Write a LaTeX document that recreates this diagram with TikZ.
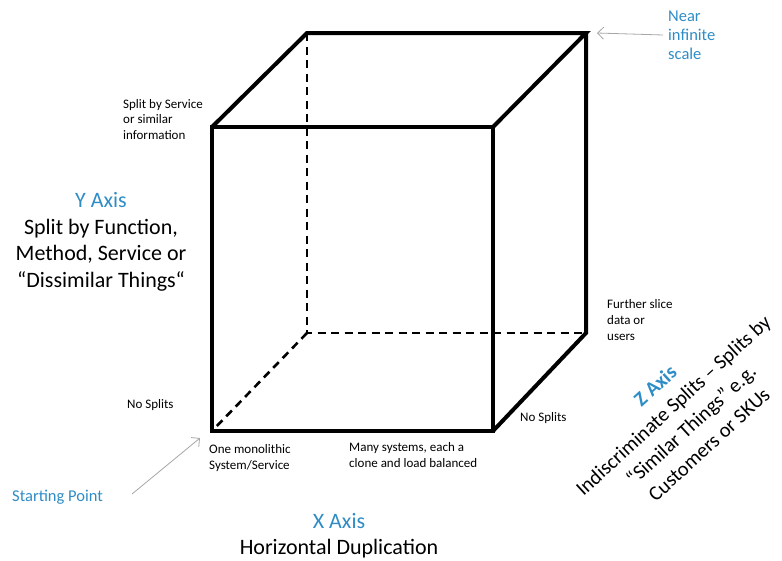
\documentclass[tikz,border=0pt]{standalone}
\usepackage{fontspec}
\setmainfont{Carlito}
\usetikzlibrary{arrows.meta}
\definecolor{axisblue}{RGB}{46,140,198}
\definecolor{pointgray}{RGB}{166,166,166}
\begin{document}
\begin{tikzpicture}[x=1pt,y=-1pt,
  edge/.style={line width=4pt, line join=miter},
  hidden/.style={line width=2.6pt, dash pattern=on 8pt off 5.5pt},
  pointer/.style={draw=pointgray, line width=0.8pt, -{Straight Barb[length=6pt,width=12pt]}},
  small/.style={font=\fontsize{13}{15.8}\selectfont, inner sep=0pt, align=left},
  mid/.style={font=\fontsize{16.5}{19}\selectfont, inner sep=0pt, align=left, text=axisblue},
  big/.style={font=\fontsize{22}{26.5}\selectfont, inner sep=0pt, align=center},
  slanted/.style={font=\fontsize{20.5}{26.5}\selectfont, inner sep=0pt, align=center, rotate=42.5}]
\useasboundingbox (0,0) rectangle (782,560);

% cube corners
\coordinate (ftl) at (212,127);
\coordinate (ftr) at (493,127);
\coordinate (fbl) at (212,431);
\coordinate (fbr) at (493,431);
\coordinate (btl) at (307,33);
\coordinate (btr) at (586,33);
\coordinate (bbl) at (307,333);
\coordinate (bbr) at (586,333);

% hidden edges
\draw[hidden] (btl) -- (bbl) -- (bbr);
\draw[hidden] (bbl) -- (fbl);

% visible edges
\draw[edge] (ftl) rectangle (fbr);
\draw[edge] (ftl) -- (btl) -- (btr) -- (ftr);
\draw[edge] (btr) -- (bbr) -- (fbr);

% labels
\node[mid, anchor=west] (near) at (668,35) {Near\\infinite\\scale};
\node[small, anchor=west] (svc) at (123,119.5) {Split by Service\\or similar\\information};
\node[big] (yaxis) at (101,242) {\textcolor{axisblue}{Y Axis}\\Split by Function,\\Method, Service or\\“Dissimilar Things“};
\node[small, anchor=west] (nsl) at (127,405) {No Splits};
\node[small, anchor=west] (mono) at (209,458) {One monolithic\\System/Service};
\node[small, anchor=west] (many) at (349,455) {Many systems, each a\\clone and load balanced};
\node[small, anchor=west] (nsr) at (520,418) {No Splits};
\node[small, anchor=west] (further) at (607,320) {Further slice\\data or\\users};
\node[mid, anchor=west] (start) at (12,497) {Starting Point};
\node[big] (xaxis) at (339,535.5) {\textcolor{axisblue}{X Axis}\\Horizontal Duplication};
\node[slanted] (zaxis) at (682,415) {\textcolor{axisblue}{\bfseries Z Axis}\\Indiscriminate Splits – Splits by\\“Similar Things” e.g.\\Customers or SKUs};

% pointers
\coordinate (sptip) at (200,438);
\draw[pointer] ([xshift=-5pt]near.west) -- ([xshift=11pt]btr);
\draw[pointer] ([xshift=29pt,yshift=3pt]start.east) -- (sptip);
\end{tikzpicture}
\end{document}
